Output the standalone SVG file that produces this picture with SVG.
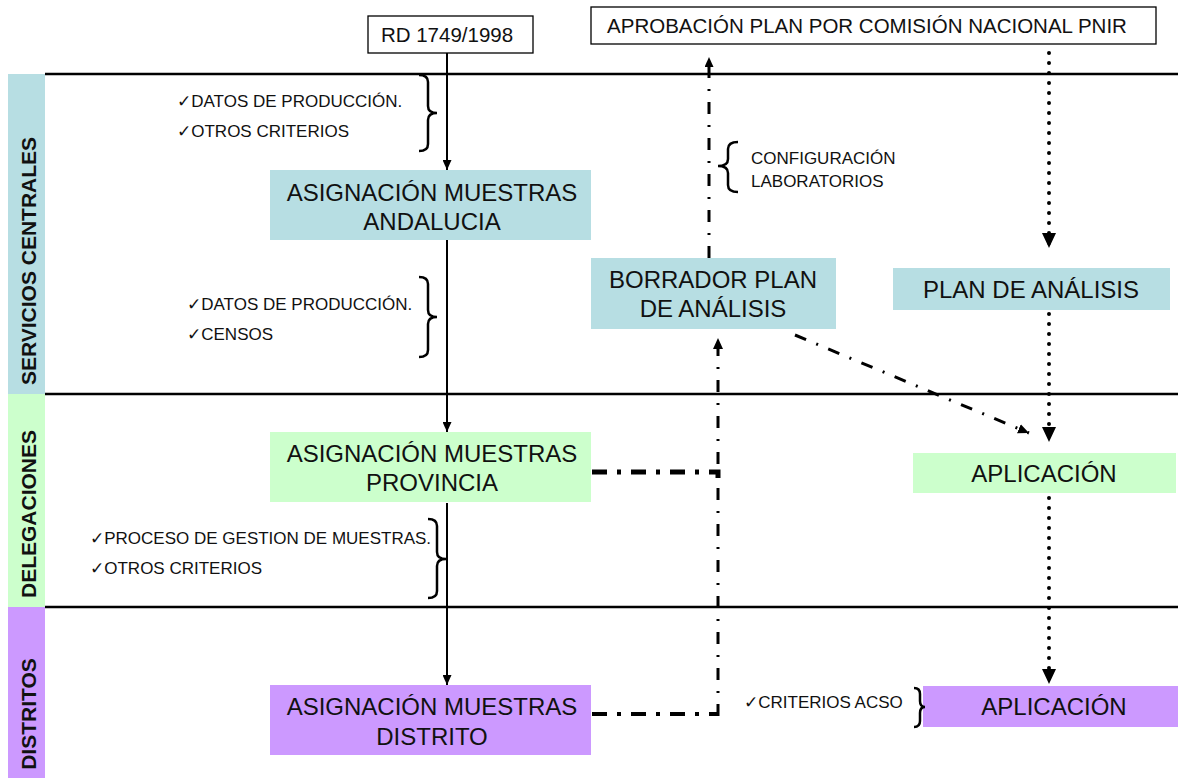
<svg xmlns="http://www.w3.org/2000/svg" width="1178" height="778" viewBox="0 0 1178 778">
<style>
text{font-family:"Liberation Sans",Arial,"DejaVu Sans",sans-serif;fill:#111}
.lane{font-size:21px;font-weight:bold;text-anchor:middle}
.big{font-size:24px;text-anchor:middle}
.top{font-size:20.5px;text-anchor:middle}
.sm{font-size:17px}
.teal{fill:#b7dee3}
.green{fill:#ccffcc}
.purple{fill:#cc99ff}
.hl{stroke:#000;stroke-width:2.5;fill:none}
.solid{stroke:#000;stroke-width:2;fill:none}
.dot{stroke:#000;stroke-width:4;fill:none;stroke-linecap:round;stroke-dasharray:0 10}
.dd{stroke:#000;stroke-width:3;fill:none;stroke-dasharray:12 11 2 11}
.ddk{stroke:#000;stroke-width:5;fill:none;stroke-dasharray:15 10 4 10}
.ddk2{stroke:#000;stroke-width:4;fill:none;stroke-dasharray:15 10 4 10}
.brace{stroke:#000;stroke-width:2.5;fill:none}
</style>
<defs>
<marker id="ahS" markerUnits="userSpaceOnUse" markerWidth="10" markerHeight="9" refX="10" refY="4.5" orient="auto"><path d="M0,0 L10,4.5 L0,9 z" fill="#000"/></marker>
<marker id="ahM" markerUnits="userSpaceOnUse" markerWidth="11" markerHeight="10" refX="11" refY="5" orient="auto"><path d="M0,0 L11,5 L0,10 z" fill="#000"/></marker>
<marker id="ahL" markerUnits="userSpaceOnUse" markerWidth="15" markerHeight="14" refX="15" refY="7" orient="auto"><path d="M0,0 L15,7 L0,14 z" fill="#000"/></marker>
</defs>
<rect width="1178" height="778" fill="#fff"/>

<g id="lanes">
<rect x="8" y="74" width="37" height="320" class="teal"/>
<rect x="8" y="394" width="37" height="213" class="green"/>
<rect x="8" y="607" width="37" height="171" class="purple"/>
<text class="lane" transform="translate(36,261) rotate(-90)">SERVICIOS CENTRALES</text>
<text class="lane" transform="translate(36,514) rotate(-90)">DELEGACIONES</text>
<text class="lane" transform="translate(36,714) rotate(-90)">DISTRITOS</text>
<line x1="45" y1="74" x2="1178" y2="74" class="hl"/>
<line x1="45" y1="394" x2="1178" y2="394" class="hl"/>
<line x1="45" y1="607" x2="1178" y2="607" class="hl"/>
</g>

<g id="connectors">
<line x1="447" y1="53" x2="447" y2="170" class="solid" marker-end="url(#ahS)"/>
<line x1="447" y1="240" x2="447" y2="432" class="solid" marker-end="url(#ahS)"/>
<line x1="447" y1="503" x2="447" y2="685" class="solid" marker-end="url(#ahS)"/>
<line x1="709" y1="258" x2="709" y2="57" class="dd" marker-end="url(#ahS)"/>
<path d="M592,472 H718 V482" class="ddk"/>
<path d="M592,714 H718" class="ddk2"/>
<line x1="718" y1="716" x2="718" y2="338" class="dd" marker-end="url(#ahM)"/>
<line x1="795" y1="335" x2="1029" y2="433" class="dd" marker-end="url(#ahM)"/>
<line x1="1049" y1="53" x2="1049" y2="248" class="dot" marker-end="url(#ahL)"/>
<line x1="1049" y1="314" x2="1049" y2="442" class="dot" marker-end="url(#ahL)"/>
<line x1="1049" y1="498" x2="1049" y2="684" class="dot" marker-end="url(#ahL)"/>
</g>

<g id="node-rd">
<rect x="368" y="16" width="165" height="37" fill="#fff" stroke="#000" stroke-width="1.3"/>
<text class="top" x="447" y="42">RD 1749/1998</text>
</g>
<g id="node-aprobacion">
<rect x="591" y="7" width="565" height="37" fill="#fff" stroke="#000" stroke-width="1.3"/>
<text class="top" x="867" y="33">APROBACIÓN PLAN POR COMISIÓN NACIONAL PNIR</text>
</g>
<g id="node-andalucia">
<rect x="270" y="170" width="321" height="70" class="teal"/>
<text class="big" x="432" y="201">ASIGNACIÓN MUESTRAS</text>
<text class="big" x="432" y="230">ANDALUCIA</text>
</g>
<g id="node-provincia">
<rect x="270" y="432" width="321" height="70" class="green"/>
<text class="big" x="432" y="462">ASIGNACIÓN MUESTRAS</text>
<text class="big" x="432" y="491">PROVINCIA</text>
</g>
<g id="node-distrito">
<rect x="270" y="685" width="321" height="70" class="purple"/>
<text class="big" x="432" y="715">ASIGNACIÓN MUESTRAS</text>
<text class="big" x="432" y="745">DISTRITO</text>
</g>
<g id="node-borrador">
<rect x="591" y="258" width="245" height="71" class="teal"/>
<text class="big" x="713" y="288">BORRADOR PLAN</text>
<text class="big" x="713" y="317">DE ANÁLISIS</text>
</g>
<g id="node-plan">
<rect x="893" y="268" width="277" height="42" class="teal"/>
<text class="big" x="1031" y="298">PLAN DE ANÁLISIS</text>
</g>
<g id="node-aplicacion-del">
<rect x="913" y="453" width="263" height="40" class="green"/>
<text class="big" x="1044" y="482">APLICACIÓN</text>
</g>
<g id="node-aplicacion-dist">
<rect x="923" y="686" width="255" height="41" class="purple"/>
<text class="big" x="1054" y="715">APLICACIÓN</text>
</g>

<g id="annotations">
<path class="brace" d="M419,75 Q428,75 428,82 L428,106 Q428,113 437,113 Q428,113 428,120 L428,144 Q428,151 419,151"/>
<text class="sm" x="177" y="107">✓DATOS DE PRODUCCIÓN.</text>
<text class="sm" x="177" y="137">✓OTROS CRITERIOS</text>
<path class="brace" d="M419,277 Q428,277 428,284 L428,310 Q428,317 437,317 Q428,317 428,324 L428,350 Q428,357 419,357"/>
<text class="sm" x="187" y="310">✓DATOS DE PRODUCCIÓN.</text>
<text class="sm" x="187" y="340">✓CENSOS</text>
<path class="brace" d="M428,519 Q437,519 437,526 L437,552 Q437,559 446,559 Q437,559 437,566 L437,591 Q437,598 428,598"/>
<text class="sm" x="90" y="544">✓PROCESO DE GESTION DE MUESTRAS.</text>
<text class="sm" x="90" y="574">✓OTROS CRITERIOS</text>
<path class="brace" d="M738,142 Q728,142 728,149 L728,159 Q728,166 718,166 Q728,166 728,173 L728,185 Q728,192 738,192"/>
<text class="sm" x="751" y="164">CONFIGURACIÓN</text>
<text class="sm" x="751" y="187">LABORATORIOS</text>
<path class="brace" d="M914,688 Q920,688 920,694 L920,701 Q920,707 925,707 Q920,707 920,713 L920,721 Q920,727 914,727"/>
<text class="sm" x="744" y="708">✓CRITERIOS ACSO</text>
</g>
</svg>
